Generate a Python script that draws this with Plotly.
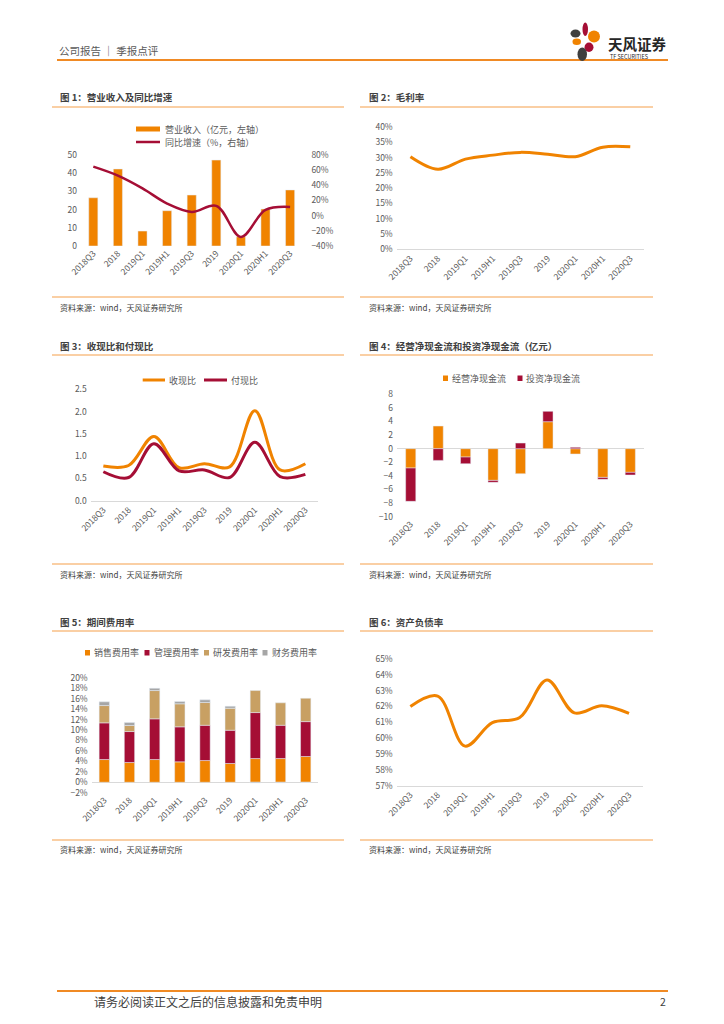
import plotly.graph_objects as go

W, H = 724, 1024
OFF = 8  # page body margin of the viewer, compensated in all paper coordinates
FONT = "Noto Sans CJK SC"
ORANGE = "#F08300"
CRIMSON = "#A50E35"
TAN = "#C8A063"
GREY = "#A6A6A6"
TXT = "#595959"
RULE = "#F5A04A"

# ---------------- data ----------------
categories = ["2018Q3", "2018", "2019Q1", "2019H1", "2019Q3", "2019", "2020Q1", "2020H1", "2020Q3"]

revenue = [26.5, 42.3, 8.2, 19.4, 28.0, 47.2, 5.1, 20.3, 30.8]          # 亿元
revenue_yoy = [0.646, 0.528, 0.36, 0.16, 0.05, 0.13, -0.28, 0.075, 0.115]

gross_margin = [0.303, 0.262, 0.295, 0.308, 0.317, 0.311, 0.303, 0.334, 0.335]

cash_recv_ratio = [0.78, 0.79, 1.44, 0.74, 0.83, 0.76, 2.02, 0.69, 0.83]
cash_pay_ratio = [0.65, 0.52, 1.28, 0.67, 0.69, 0.52, 1.31, 0.54, 0.59]

op_cf = [-2.84, 3.33, -1.23, -4.66, -3.68, 3.97, -0.78, -4.22, -3.48]
inv_cf = [-4.9, -1.72, -0.98, -0.29, 0.83, 1.52, 0.2, -0.29, -0.39]

sales_rate = [0.0434, 0.0377, 0.0434, 0.039, 0.0415, 0.0358, 0.0453, 0.0453, 0.0492]
admin_rate = [0.0702, 0.0593, 0.0779, 0.067, 0.0675, 0.0637, 0.088, 0.0637, 0.0668]
rd_rate = [0.0331, 0.0115, 0.0541, 0.044, 0.0435, 0.0421, 0.0421, 0.0429, 0.0447]
fin_rate = [0.0071, 0.0057, 0.0044, 0.0044, 0.0051, 0.0038, -0.0015, -0.001, -0.0005]

debt_ratio = [0.620, 0.6266, 0.595, 0.6098, 0.613, 0.6367, 0.616, 0.6205, 0.6157]

titles = ["图 1：营业收入及同比增速", "图 2：毛利率", "图 3：收现比和付现比",
          "图 4：经营净现金流和投资净现金流（亿元）", "图 5：期间费用率", "图 6：资产负债率"]
source_text = "资料来源：wind，天风证券研究所"


def fx(x):
    return (x - OFF) / W


def fy(y):
    return 1 - (y - OFF) / H


fig = go.Figure()

# chart 1
fig.add_trace(go.Bar(x=categories, y=revenue, marker_color=ORANGE, width=0.37,
                     xaxis="x", yaxis="y", showlegend=False))
fig.add_trace(go.Scatter(x=categories, y=revenue_yoy, mode="lines",
                         line=dict(color=CRIMSON, width=2.5, shape="spline", smoothing=1),
                         xaxis="x", yaxis="y2", showlegend=False))
# chart 2
fig.add_trace(go.Scatter(x=categories, y=gross_margin, mode="lines",
                         line=dict(color=ORANGE, width=3, shape="spline", smoothing=1),
                         xaxis="x2", yaxis="y3", showlegend=False))
# chart 3
fig.add_trace(go.Scatter(x=categories, y=cash_recv_ratio, mode="lines",
                         line=dict(color=ORANGE, width=3, shape="spline", smoothing=1),
                         xaxis="x3", yaxis="y4", showlegend=False))
fig.add_trace(go.Scatter(x=categories, y=cash_pay_ratio, mode="lines",
                         line=dict(color=CRIMSON, width=3, shape="spline", smoothing=1),
                         xaxis="x3", yaxis="y4", showlegend=False))
# chart 4
fig.add_trace(go.Bar(x=categories, y=op_cf, marker_color=ORANGE, width=0.37,
                     xaxis="x4", yaxis="y5", showlegend=False))
fig.add_trace(go.Bar(x=categories, y=inv_cf, marker_color=CRIMSON, width=0.37,
                     xaxis="x4", yaxis="y5", showlegend=False))
# chart 5
for vals, col in [(sales_rate, ORANGE), (admin_rate, CRIMSON), (rd_rate, TAN), (fin_rate, GREY)]:
    fig.add_trace(go.Bar(x=categories, y=vals, marker_color=col, width=0.41,
                         xaxis="x5", yaxis="y6", showlegend=False))
# chart 6
fig.add_trace(go.Scatter(x=categories, y=debt_ratio, mode="lines",
                         line=dict(color=ORANGE, width=3, shape="spline", smoothing=1),
                         xaxis="x6", yaxis="y7", showlegend=False))

tickfont = dict(family=FONT, size=8.5, color=TXT)


def xax(l, r, anchor, line=False):
    return dict(domain=[fx(l), fx(r)], anchor=anchor, type="category", tickangle=-45,
                range=[-0.5, len(categories) - 0.5],
                tickfont=tickfont, showgrid=False, zeroline=False, ticks="",
                showline=line, linecolor="#D9D9D9", linewidth=1, fixedrange=True,
                automargin=False)


def yax(bottom, top, rng, dtick, anchor, fmt=None, zero=False):
    d = dict(domain=[fy(bottom), fy(top)], anchor=anchor, range=rng, dtick=dtick,
             tickfont=tickfont, showgrid=False, zeroline=zero, zerolinecolor="#D9D9D9",
             zerolinewidth=1, ticks="", showline=False, ticklabelstandoff=3, fixedrange=True,
             automargin=False)
    if fmt:
        d["tickformat"] = fmt
    return d


layout = dict(
    width=W, height=H, autosize=False,
    margin=dict(l=0, r=0, t=0, b=0, pad=0, autoexpand=False),
    paper_bgcolor="white", plot_bgcolor="white", barmode="relative",
    font=dict(family=FONT, color=TXT), showlegend=False,
    xaxis=xax(81, 302.4, "y"),
    yaxis=yax(246, 155, [0, 50], 10, "x"),
    yaxis2=dict(overlaying="y", side="right", anchor="x", range=[-0.4, 0.8], dtick=0.2,
                tickformat=".0%", tickfont=tickfont, showgrid=False, zeroline=False,
                ticks="", ticklabelstandoff=8, fixedrange=True, automargin=False),
    xaxis2=xax(396.7, 644, "y3", line=True),
    yaxis3=yax(249.3, 127, [0, 0.4], 0.05, "x2", ".0%"),
    xaxis3=xax(90.7, 318, "y4", line=True),
    yaxis4=yax(500.7, 389.3, [0, 2.5], 0.5, "x3", ".1f"),
    xaxis4=xax(397, 644, "y5"),
    yaxis5=yax(516.7, 394.3, [-10, 8], 2, "x4", None, zero=True),
    xaxis5=xax(91.7, 318.3, "y6"),
    yaxis6=yax(792.7, 677.7, [-0.02, 0.20], 0.02, "x5", ".0%", zero=True),
    xaxis6=xax(396.7, 642.7, "y7", line=True),
    yaxis7=yax(785.7, 659, [0.57, 0.65], 0.01, "x6", ".0%"),
)
fig.update_layout(**layout)

shapes = []
annotations = []


def hline(x0, x1, y, color, width):
    shapes.append(dict(type="line", xref="paper", yref="paper", x0=fx(x0), x1=fx(x1),
                       y0=fy(y), y1=fy(y), line=dict(color=color, width=width)))


def rect(x0, x1, y0, y1, color):
    shapes.append(dict(type="rect", xref="paper", yref="paper", x0=fx(x0), x1=fx(x1),
                       y0=fy(y1), y1=fy(y0), fillcolor=color, line=dict(width=0)))


def ellipse(x0, x1, y0, y1, color):
    shapes.append(dict(type="circle", xref="paper", yref="paper", x0=fx(x0), x1=fx(x1),
                       y0=fy(y1), y1=fy(y0), fillcolor=color, line=dict(width=0)))


def text(x, y, s, size=9, color=TXT, anchor="left"):
    annotations.append(dict(xref="paper", yref="paper", x=fx(x), y=fy(y), text=s,
                            showarrow=False, xanchor=anchor, yanchor="middle",
                            font=dict(family=FONT, size=size, color=color)))


# header
text(57, 50, "公司报告 ｜ 季报点评", size=10.5, color="#595959")
hline(57, 668, 60, "#F08A24", 2)
ellipse(582.5, 588, 22.5, 36, CRIMSON)
ellipse(570.5, 580.5, 29.5, 37.5, "#3F3F3F")
ellipse(588, 600, 30.5, 42.5, ORANGE)
ellipse(572.5, 581, 38.5, 45, ORANGE)
ellipse(584.5, 593.5, 42.5, 52, CRIMSON)
ellipse(577.5, 587, 47.5, 61, "#3F3F3F")
text(606, 43, "<b>天风证券</b>", size=14.5, color="#262626")
text(608, 56.5, "TF SECURITIES", size=5.5, color="#262626")

# footer
hline(57, 668, 991, "#F08A24", 2)
text(92, 1001, "请务必阅读正文之后的信息披露和免责申明", size=12, color="#404040")
text(668, 1001, "2", size=10.5, color="#404040", anchor="right")

# chart frames
frames = [(52, 344, 58, 97, 107, 297, 307), (360, 653, 367, 97, 107, 297, 307),
          (52, 344, 58, 346, 355, 564, 574), (360, 653, 367, 346, 355, 564, 574),
          (52, 344, 58, 622, 631, 840, 849), (360, 653, 367, 622, 631, 840, 849)]
for (l, r, tx, ty, ly, by, sy), t in zip(frames, titles):
    text(tx, ty, "<b>" + t + "</b>", size=9.5, color="#404040")
    hline(l, r, ly, RULE, 1.2)
    hline(l, r, by, RULE, 1.2)
    text(tx, sy, source_text, size=8, color="#404040")

# legends
rect(136, 160, 126.5, 131.5, ORANGE)
text(163, 129, "营业收入（亿元，左轴）", size=9)
hline(136, 160, 142, CRIMSON, 2.5)
text(163, 142, "同比增速（%，右轴）", size=9)
hline(142.7, 165, 380, ORANGE, 3)
text(167, 380, "收现比", size=9)
hline(204, 227, 380, CRIMSON, 3)
text(229, 380, "付现比", size=9)
rect(443, 448, 375.5, 381, ORANGE)
text(449.5, 378, "经营净现金流", size=9)
rect(517.5, 522.5, 375.5, 381, CRIMSON)
text(524, 378, "投资净现金流", size=9)
for x0, col, lab in [(85, ORANGE, "销售费用率"), (144.5, CRIMSON, "管理费用率"),
                     (204, TAN, "研发费用率"), (262.5, GREY, "财务费用率")]:
    rect(x0, x0 + 5, 650, 655.5, col)
    text(x0 + 7, 652.7, lab, size=9)

fig.update_layout(shapes=shapes, annotations=annotations)
fig.write_html("out.html")
